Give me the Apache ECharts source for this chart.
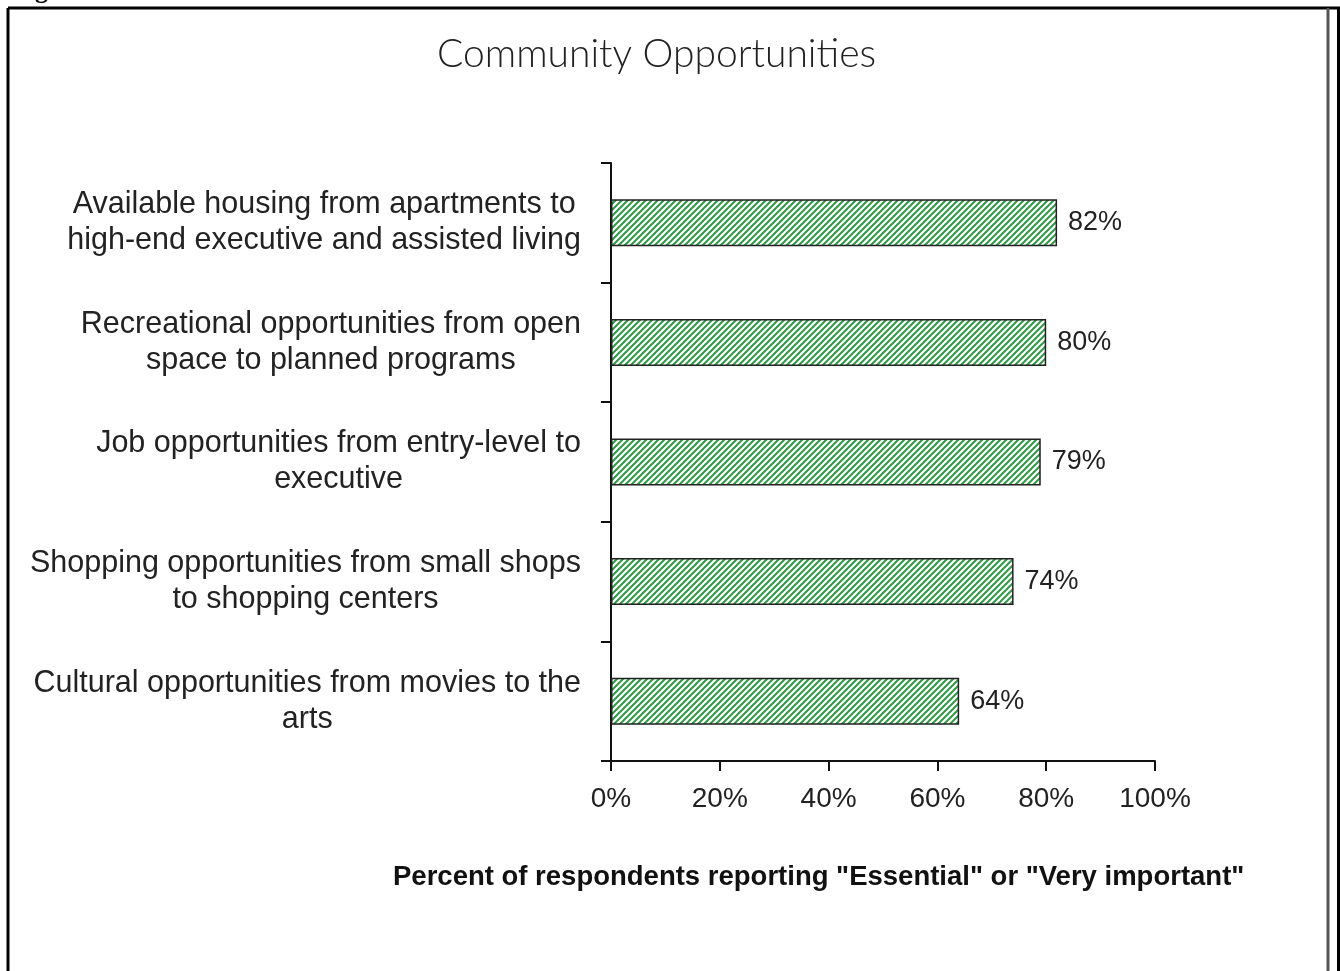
<!DOCTYPE html>
<html>
<head>
<meta charset="utf-8">
<script src="https://cdn.jsdelivr.net/npm/echarts@6/dist/echarts.min.js"></script>
<style>
  html, body { margin: 0; padding: 0; background: #fff; }
  #chart { width: 1340px; height: 971px; }
</style>
</head>
<body>
<div id="chart"></div>
<script>
// Survey items, top to bottom
const categories = [
  'Available housing from apartments to\nhigh-end executive and assisted living',
  'Recreational opportunities from open\nspace to planned programs',
  'Job opportunities from entry-level to\nexecutive',
  'Shopping opportunities from small shops\nto shopping centers',
  'Cultural opportunities from movies to the\narts'
];
// Share of respondents rating each item "Essential" or "Very important" (%)
const values = [82, 80, 79, 74, 64];
// Horizontal axis ticks (%)
const xTicks = [0, 20, 40, 60, 80, 100];

const chartTitle = 'Community Opportunities';
const axisTitle = 'Percent of respondents reporting "Essential" or "Very important"';

// Diagonal green hatch fill for the bars
function makeHatch() {
  const s = 6;
  const c = document.createElement('canvas');
  c.width = s; c.height = s;
  const g = c.getContext('2d');
  g.fillStyle = '#ffffff';
  g.fillRect(0, 0, s, s);
  g.strokeStyle = '#2f9a45';
  g.lineWidth = 2;
  g.beginPath();
  g.moveTo(-1, s + 1); g.lineTo(s + 1, -1);
  g.moveTo(-1, 1); g.lineTo(1, -1);
  g.moveTo(s - 1, s + 1); g.lineTo(s + 1, s - 1);
  g.stroke();
  return c;
}

const chart = echarts.init(document.getElementById('chart'), null, { renderer: 'canvas' });

const labelFont = '"Liberation Sans", Arial, sans-serif';

chart.setOption({
  animation: false,
  backgroundColor: '#ffffff',
  title: [
    {
      text: chartTitle,
      left: 432,
      top: 30,
      textStyle: { fontFamily: 'Lato, "Open Sans", sans-serif', fontWeight: 300, fontSize: 39, color: '#222' }
    },
    {
      text: axisTitle,
      left: 388,
      top: 858,
      textStyle: { fontFamily: labelFont, fontWeight: 'bold', fontSize: 27.5, color: '#111' }
    }
  ],
  grid: { left: 611, right: 185, top: 163, bottom: 210, containLabel: false },
  xAxis: {
    type: 'value',
    min: xTicks[0],
    max: xTicks[xTicks.length - 1],
    interval: xTicks[1] - xTicks[0],
    axisLine: { show: true, lineStyle: { color: '#111', width: 2 } },
    axisTick: { show: true, length: 10, lineStyle: { color: '#111', width: 2 } },
    splitLine: { show: false },
    axisLabel: {
      formatter: '{value}%',
      margin: 24,
      fontFamily: labelFont,
      fontSize: 28,
      color: '#222'
    }
  },
  yAxis: {
    type: 'category',
    data: categories,
    inverse: true,
    axisLine: { show: true, lineStyle: { color: '#111', width: 2 } },
    axisTick: { show: true, length: 10, lineStyle: { color: '#111', width: 2 } },
    axisLabel: {
      margin: 30,
      formatter: v => v.split('\n').map(l => '{c|' + l + '}').join('\n'),
      rich: {
        c: { align: 'center', fontFamily: labelFont, fontSize: 30.5, lineHeight: 36, color: '#222' }
      }
    }
  },
  series: [{
    type: 'bar',
    data: values,
    barWidth: 47,
    itemStyle: {
      color: { image: makeHatch(), repeat: 'repeat' },
      borderColor: '#222',
      borderWidth: 1.5
    },
    label: {
      show: true,
      position: 'right',
      distance: 11,
      formatter: '{c}%',
      fontFamily: labelFont,
      fontSize: 27,
      color: '#222'
    }
  }],
  graphic: [
    // caption running above the frame
    { type: 'text', left: 12, top: -22, silent: true,
      style: { text: 'Figure', font: 'bold 26px "Liberation Serif", serif', fill: '#000' } },
    // frame
    { type: 'line', silent: true, shape: { x1: 8, y1: 8, x2: 1340, y2: 8 }, style: { stroke: '#000', lineWidth: 3 } },
    { type: 'line', silent: true, shape: { x1: 8, y1: 8, x2: 8, y2: 971 }, style: { stroke: '#000', lineWidth: 3 } },
    { type: 'line', silent: true, shape: { x1: 1328, y1: 8, x2: 1328, y2: 971 }, style: { stroke: '#555', lineWidth: 3 } },
    { type: 'line', silent: true, shape: { x1: 1338.5, y1: 8, x2: 1338.5, y2: 971 }, style: { stroke: '#000', lineWidth: 3 } }
  ]
});
</script>
</body>
</html>
